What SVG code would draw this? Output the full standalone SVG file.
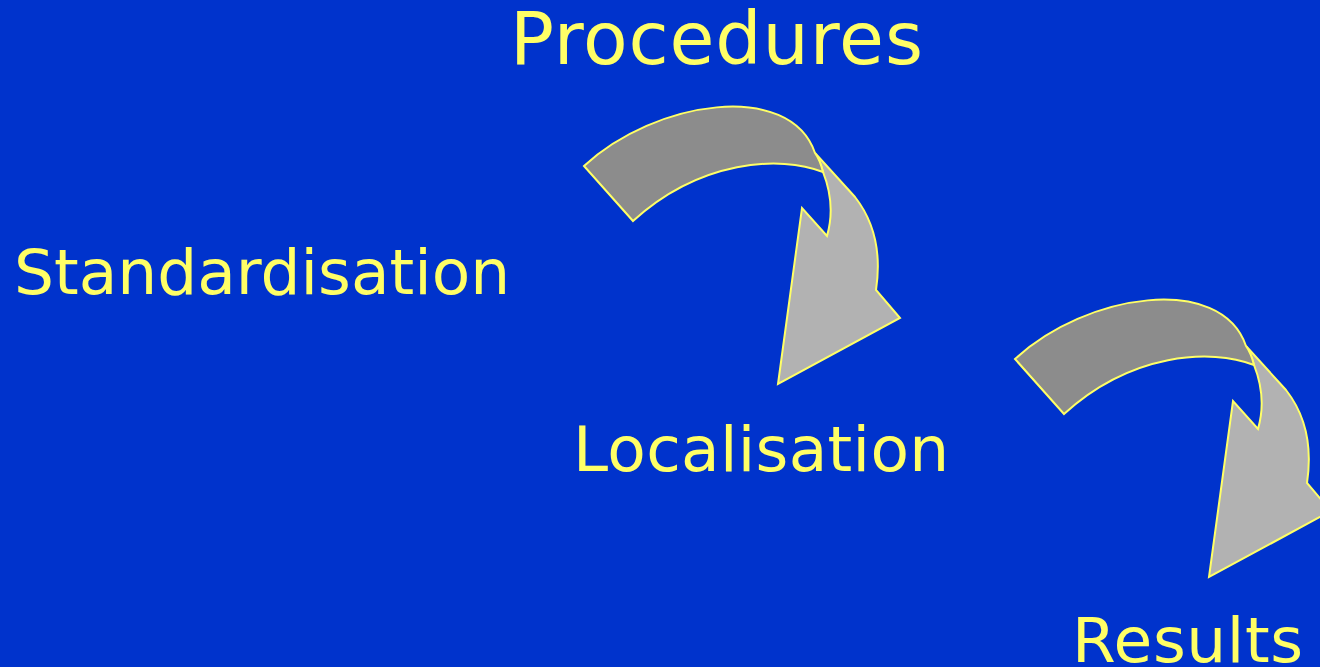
<svg xmlns="http://www.w3.org/2000/svg" width="1320" height="667" viewBox="0 0 1320 667">
<defs>
<style>
.lbl{font-family:"DejaVu Sans","Verdana",sans-serif;fill:#FFFF66;}
.dark{fill:#8C8C8C;stroke:#FFFF66;stroke-width:2;stroke-linejoin:miter;}
.light{fill:#B2B2B2;stroke:#FFFF66;stroke-width:2;stroke-linejoin:miter;}
</style>
<g id="curvedArrow">
<path class="light" d="M815,153 L855,197 C873,220 882,250 876,290 L900,318 L778,384 L802,208 L827,236 Q836,205 823,172 Q820,160 815,153 Z"/>
<path class="dark" d="M584,166 C655,100 790,80 815,153 Q820,160 823,172 C780,155 700,160 633,221 Z"/>
</g>
</defs>
<rect width="1320" height="667" fill="#0033CC"/>
<g id="connectors">
<use href="#curvedArrow"/>
<use href="#curvedArrow" transform="translate(431,193)"/>
</g>
<g id="procedures"><text class="lbl" x="510" y="64" font-size="73" letter-spacing="0.9">Procedures</text></g>
<g id="standardisation"><text class="lbl" x="14" y="294" font-size="63">Standardisation</text></g>
<g id="localisation"><text class="lbl" x="573" y="471" font-size="63" letter-spacing="0.3">Localisation</text></g>
<g id="results"><text class="lbl" x="1072" y="662" font-size="63" letter-spacing="0.6">Results</text></g>
</svg>
